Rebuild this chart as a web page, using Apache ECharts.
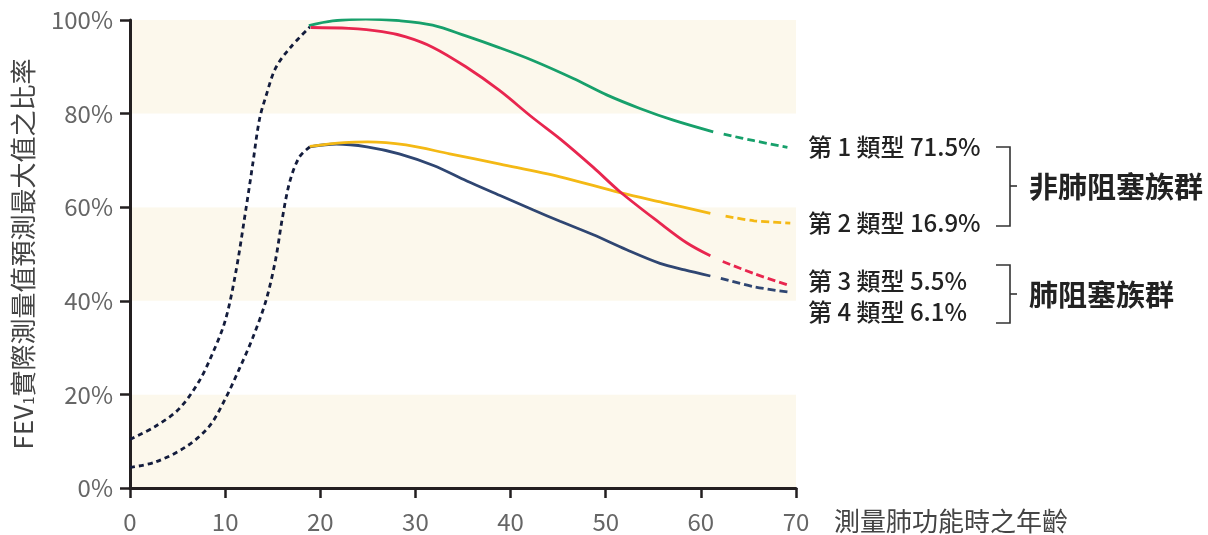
<!DOCTYPE html>
<html><head><meta charset="utf-8">
<script src="https://cdn.jsdelivr.net/npm/echarts@6/dist/echarts.min.js"></script>
<style>html,body{margin:0;padding:0;background:#fff}#c{width:1208px;height:535px}</style>
</head><body><div id="c"></div>
<script>
// ---- data (age, % of predicted max FEV1) ----
const childUpper = [[0,10.4],[2.6,13.1],[5.1,16.8],[7.2,22.6],[8.6,28.4],[10,35.7],[11.1,45.9],[12.2,59.8],[12.9,69.2],[13.6,78.7],[14.3,83.8],[15.3,89.7],[16.8,94.0],[18.9,98.5]];
const childLower = [[0,4.4],[2.6,5.5],[5.8,8.7],[8.3,13.1],[10,19.0],[11.5,25.5],[12.9,32.1],[14.3,40.1],[15.3,48.8],[16,57.5],[16.8,65.5],[17.8,70.7],[18.9,72.9]];
const type1 = [[18.8,98.8],[21.3,99.8],[24.8,100.2],[28.3,99.85],[31.8,98.9],[35.3,96.6],[38.8,94.1],[42.4,91.3],[46.6,87.5],[50.1,84.0],[53.6,81.1],[57.1,78.6],[61.3,76.1]];
const type1Proj = [[62.4,75.6],[65.6,74.2],[69.1,72.8]];
const type2 = [[18.9,73.0],[22.5,73.8],[25,73.95],[29,73.3],[33.6,71.4],[38.9,69.2],[45.2,66.5],[51.5,63.1],[56,61.0],[61,58.7]];
const type2Proj = [[62.6,58.1],[65.6,57.1],[69.4,56.6]];
const type3 = [[19.0,98.4],[23.0,98.2],[26.5,97.5],[29.0,96.4],[31.8,94.2],[35.3,90.0],[38.8,85.0],[42.4,79.0],[45.2,74.6],[48.7,68.5],[51.5,63.3],[55.7,56.6],[58.5,52.4],[61,49.6]];
const type3Proj = [[62.3,48.4],[65.6,45.8],[69.1,43.4]];
const type4 = [[18.9,72.9],[21.7,73.5],[24.9,72.9],[28.3,71.4],[31.9,68.9],[35.4,65.6],[38.9,62.5],[42.4,59.4],[45.2,57.0],[48.7,54.1],[52.2,50.9],[55.7,48.0],[58.3,46.6],[61,45.3]];
const type4Proj = [[62.1,44.8],[65.6,43.0],[69.1,41.9]];
const typeLabels = ['第 1 類型 71.5%','第 2 類型 16.9%','第 3 類型 5.5%','第 4 類型 6.1%'];
const groupLabels = ['非肺阻塞族群','肺阻塞族群'];
const xTicks = [0,10,20,30,40,50,60,70];
const yTicks = [0,20,40,60,80,100];

const FONT = '"Noto Sans CJK TC", "Noto Sans", sans-serif';
const COL = {green:'#17a06b', red:'#e8264f', yellow:'#f4b915', navy:'#2f4672', child:'#131c3c'};

function line(data, color, dashed, z){
  return {type:'line', data, smooth:0.33, showSymbol:false, symbol:'none', z:z||2,
    lineStyle:{color, width:2.8, type: dashed ? dashed : 'solid'}, animation:false};
}
function bracket(top, bottom, mid){
  const s = {stroke:'#333', lineWidth:1.6, fill:null};
  return [
    {type:'polyline', shape:{points:[[996,top],[1010,top],[1010,bottom],[996,bottom]]}, style:s},
    {type:'line', shape:{x1:1010, y1:mid, x2:1017, y2:mid}, style:s}
  ];
}

const chart = echarts.init(document.getElementById('c'));
chart.setOption({
  animation:false,
  grid:{left:130, right:412, top:20, bottom:47, containLabel:false},
  xAxis:{type:'value', min:0, max:70, interval:10,
    axisLine:{lineStyle:{color:'#231f20', width:3}},
    axisTick:{show:true, length:10, lineStyle:{color:'#231f20', width:2.5}},
    splitLine:{show:false},
    axisLabel:{color:'#666', fontSize:24, margin:22, fontFamily:FONT,
      formatter:v=> xTicks.includes(v) ? String(v) : ''},
    name:'測量肺功能時之年齡', nameLocation:'end', nameGap:38,
    nameTextStyle:{color:'#444', fontSize:26, fontFamily:FONT, align:'left', verticalAlign:'top', padding:[20,0,0,0]}
  },
  yAxis:{type:'value', min:0, max:100, interval:20,
    axisLine:{show:true, lineStyle:{color:'#231f20', width:3}},
    axisTick:{show:true, length:10, lineStyle:{color:'#231f20', width:2.5}},
    splitLine:{show:false},
    splitArea:{show:true, areaStyle:{color:['#fcf8ec','#ffffff']}},
    axisLabel:{color:'#666', fontSize:24, margin:17, fontFamily:FONT,
      formatter:v=> yTicks.includes(v) ? v + '%' : ''},
    name:'FEV{sub|1}實際測量值預測最大值之比率', nameLocation:'middle', nameGap:94, nameRotate:90,
    nameTextStyle:{color:'#444', fontSize:26, fontFamily:FONT,
      rich:{sub:{fontSize:15, color:'#444', fontFamily:FONT, verticalAlign:'bottom', padding:[11,0,0,0]}}}
  },
  series:[
    line(childUpper, COL.child, [5,4], 3),
    line(childLower, COL.child, [5,4], 3),
    line(type1, COL.green),
    line(type1Proj, COL.green, [8,4]),
    line(type4, COL.navy),
    line(type4Proj, COL.navy, [8,4]),
    line(type2, COL.yellow, null, 3),
    line(type2Proj, COL.yellow, [8,4]),
    line(type3, COL.red, null, 4),
    line(type3Proj, COL.red, [8,4], 4)
  ],
  graphic:[
    {type:'text', x:808, y:147, style:{text:typeLabels[0], font:'500 24px '+FONT, fill:'#222', verticalAlign:'middle'}},
    {type:'text', x:808, y:223, style:{text:typeLabels[1], font:'500 24px '+FONT, fill:'#222', verticalAlign:'middle'}},
    {type:'text', x:808, y:281, style:{text:typeLabels[2], font:'500 24px '+FONT, fill:'#222', verticalAlign:'middle'}},
    {type:'text', x:808, y:312, style:{text:typeLabels[3], font:'500 24px '+FONT, fill:'#222', verticalAlign:'middle'}},
    ...bracket(147, 226, 186),
    ...bracket(265, 323, 294),
    {type:'text', x:1029, y:187, style:{text:groupLabels[0], font:'bold 29px '+FONT, fill:'#222', verticalAlign:'middle'}},
    {type:'text', x:1029, y:295, style:{text:groupLabels[1], font:'bold 29px '+FONT, fill:'#222', verticalAlign:'middle'}}
  ]
});
</script></body></html>
